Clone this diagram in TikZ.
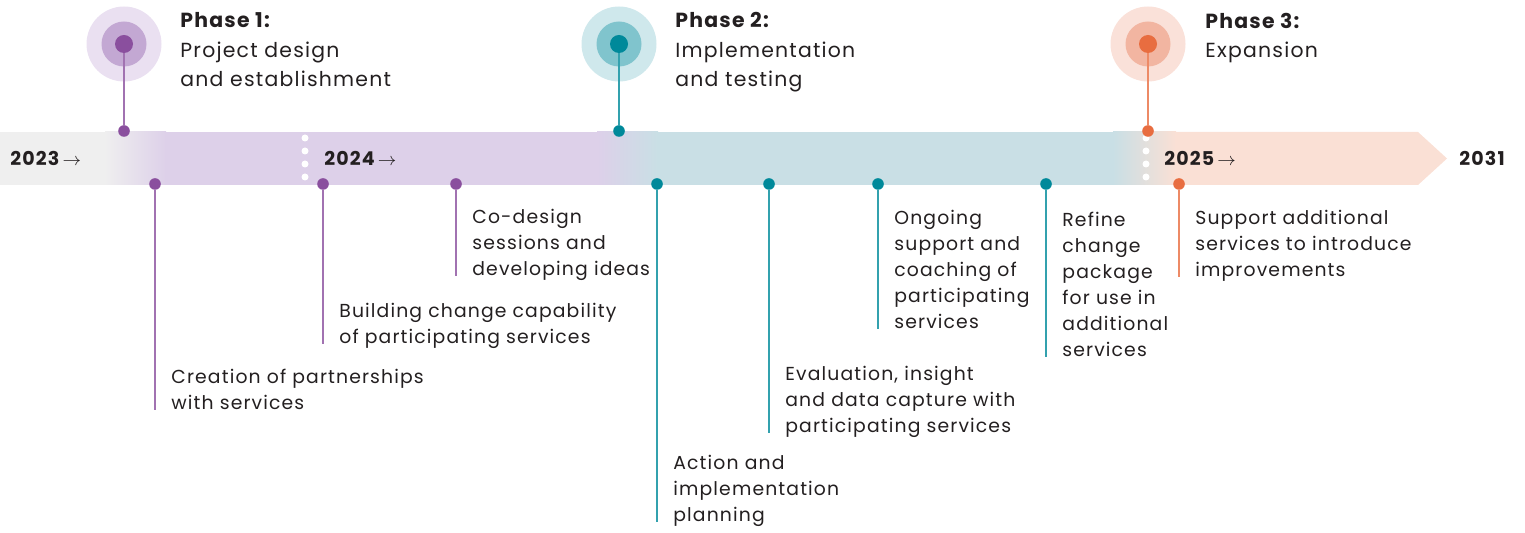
\documentclass[tikz,border=0pt]{standalone}
\usepackage{fontspec}
\setmainfont{Poppins}[LetterSpace=6]
\usepackage{xcolor}
\usetikzlibrary{calc}

\definecolor{inkdark}{HTML}{231F20}
\definecolor{bandgray}{HTML}{EFEFEF}
\definecolor{oneband}{HTML}{DDD0E9}
\definecolor{onedot}{HTML}{8A4F9E}
\definecolor{onemid}{HTML}{C3A8D3}
\definecolor{oneout}{HTML}{EAE0F1}
\definecolor{twoband}{HTML}{C9DFE5}
\definecolor{twodot}{HTML}{00899A}
\definecolor{twomid}{HTML}{80C4CD}
\definecolor{twoout}{HTML}{CFE8EC}
\definecolor{threeband}{HTML}{FAE0D5}
\definecolor{threedot}{HTML}{E86D40}
\definecolor{threemid}{HTML}{F2B5A1}
\definecolor{threeout}{HTML}{FAE1D9}

\tikzset{
  evdot/.style={circle, fill=#1, inner sep=0pt, minimum size=5.8pt},
  hubdot/.style={circle, fill=#1, inner sep=0pt, minimum size=9pt},
  stem/.style={draw=#1!80, line width=1pt},
  evlabel/.style={anchor=south west, inner sep=0pt, align=left, text depth=0pt, text=inkdark, font=\fontsize{9.4}{13}\selectfont},
  phasetitle/.style={anchor=south west, inner sep=0pt, align=left, text depth=0pt, text=inkdark, font=\fontsize{10.2}{14.75}\selectfont},
  yearlabel/.style={anchor=base west, inner sep=0pt, text=inkdark, font=\fontsize{9.5}{11}\selectfont\bfseries}
}
\newcommand{\yrarrow}{\,{\mdseries$\rightarrow$}}

\begin{document}
\begin{tikzpicture}[x=0.5pt, y=-0.5pt]
\useasboundingbox (0,0) rectangle (1525,533);

% the band, phase colours blending into each other
\fill[bandgray] (0,132) rectangle (106,185);
\shade[left color=bandgray, right color=oneband] (105,132) rectangle (166,185);
\fill[oneband] (165,132) rectangle (598,185);
\shade[left color=oneband, right color=twoband] (597,132) rectangle (658,185);
\fill[twoband] (657,132) rectangle (1114,185);
\shade[left color=twoband, right color=threeband] (1113,132) rectangle (1176,185);
\fill[threeband] (1175,132) -- (1418,132) -- (1447,158.5) -- (1418,185) -- (1175,185) -- cycle;

% year breaks
\foreach \yy in {138,151,164,177} {
  \fill[white] (305,\yy) circle (3.5);
  \fill[white] (1146,\yy) circle (3.5);
}

% years
\node[yearlabel] (y23) at (10,166) {2023\yrarrow};
\node[yearlabel] (y24) at (324,166) {2024\yrarrow};
\node[yearlabel] (y25) at (1164,166) {2025\yrarrow};
\node[yearlabel] (y31) at (1459,166) {2031};

% phase markers
\fill[oneout] (124,44) circle (37.5);
\fill[onemid] (124,44) circle (22.5);
\fill[twoout] (619,44) circle (37.5);
\fill[twomid] (619,44) circle (22.5);
\fill[threeout] (1148,44) circle (37.5);
\fill[threemid] (1148,44) circle (22.5);
\node[hubdot=onedot] (p1) at (124,44) {};
\node[hubdot=twodot] (p2) at (619,44) {};
\node[hubdot=threedot] (p3) at (1148,44) {};
\node[evdot=onedot] (pd1) at (124,131) {};
\node[evdot=twodot] (pd2) at (619,131) {};
\node[evdot=threedot] (pd3) at (1148,131) {};
\draw[stem=onedot] (p1) -- (pd1);
\draw[stem=twodot] (p2) -- (pd2);
\draw[stem=threedot] (p3) -- (pd3);

\node[phasetitle] (t1) at (180,87) {\textbf{Phase 1:}\\Project design\\and establishment};
\node[phasetitle] (t2) at (675,87) {\textbf{Phase 2:}\\Implementation\\and testing};
\node[phasetitle] (t3) at (1205,58) {\textbf{Phase 3:}\\Expansion};

% milestones under the band
\node[evdot=onedot] (e1) at (155,184) {};
\node[evdot=onedot] (e2) at (323,184) {};
\node[evdot=onedot] (e3) at (456,184) {};
\node[evdot=twodot] (e4) at (657,184) {};
\node[evdot=twodot] (e5) at (769,184) {};
\node[evdot=twodot] (e6) at (878,184) {};
\node[evdot=twodot] (e7) at (1046,184) {};
\node[evdot=threedot] (e8) at (1179,184) {};

\node[evlabel] (l1) at (171,410) {Creation of partnerships\\with services};
\node[evlabel] (l2) at (339,344) {Building change capability\\of participating services};
\node[evlabel] (l3) at (472,276) {Co-design\\sessions and\\developing ideas};
\node[evlabel] (l4) at (673,522) {Action and\\implementation\\planning};
\node[evlabel] (l5) at (785,433) {Evaluation, insight\\and data capture with\\participating services};
\node[evlabel] (l6) at (894,329) {Ongoing\\support and\\coaching of\\participating\\services};
\node[evlabel] (l7) at (1062,357) {Refine\\change\\package\\for use in\\additional\\services};
\node[evlabel] (l8) at (1195,277) {Support additional\\services to introduce\\improvements};

\draw[stem=onedot] (e1) -- (e1 |- l1.south);
\draw[stem=onedot] (e2) -- (e2 |- l2.south);
\draw[stem=onedot] (e3) -- (e3 |- l3.south);
\draw[stem=twodot] (e4) -- (e4 |- l4.south);
\draw[stem=twodot] (e5) -- (e5 |- l5.south);
\draw[stem=twodot] (e6) -- (e6 |- l6.south);
\draw[stem=twodot] (e7) -- (e7 |- l7.south);
\draw[stem=threedot] (e8) -- (e8 |- l8.south);
\end{tikzpicture}
\end{document}
